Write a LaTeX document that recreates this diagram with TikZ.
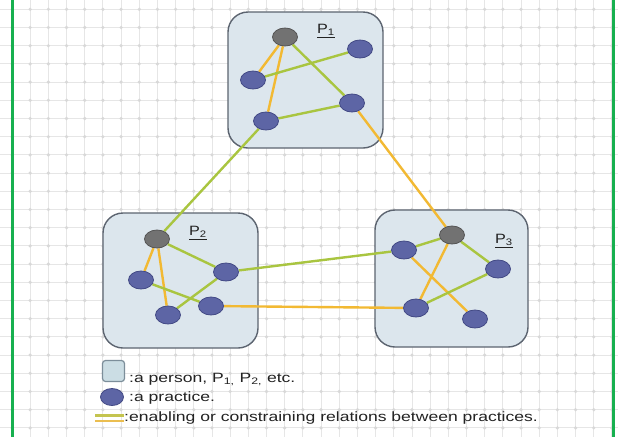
\documentclass[tikz,border=0pt]{standalone}
\usepackage{fontspec}
\usepackage{graphicx}
\setmainfont{Liberation Sans}
\usetikzlibrary{shapes.geometric}
\definecolor{gridc}{HTML}{E6E6E6}
\definecolor{dotc}{HTML}{D8D8D8}
\definecolor{barc}{HTML}{17B04F}
\definecolor{boxf}{HTML}{DCE6ED}
\definecolor{boxb}{HTML}{5C6470}
\definecolor{pracf}{HTML}{5D65A5}
\definecolor{pracb}{HTML}{434A85}
\definecolor{hubf}{HTML}{727272}
\definecolor{hubb}{HTML}{555555}
\definecolor{greenl}{HTML}{A9C540}
\definecolor{orangel}{HTML}{F2B933}
\definecolor{legy}{HTML}{C4C450}
\definecolor{lego}{HTML}{EBBE50}
\definecolor{legsq}{HTML}{CBDDE4}
\definecolor{legsqb}{HTML}{7C8E9A}
\definecolor{txt}{HTML}{222222}
\pgfdeclarelayer{bg}
\pgfdeclarelayer{edges}
\pgfsetlayers{bg,edges,main}
\begin{document}
\begin{tikzpicture}[x=1pt,y=-1pt,
  person/.style={draw=boxb, fill=boxf, line width=1.4pt, rounded corners=20pt, inner sep=0pt},
  prac/.style={ellipse, draw=pracb, fill=pracf, line width=0.8pt, minimum width=25pt, minimum height=18pt, inner sep=0pt},
  hub/.style={prac, draw=hubb, fill=hubf},
  gl/.style={draw=greenl, line width=2.4pt},
  ol/.style={draw=orangel, line width=2.4pt},
  plabel/.style={font=\fontsize{13.5}{14}\selectfont, text=txt, inner sep=0pt},
  legtext/.style={anchor=base west, inner sep=0pt, font=\fontsize{13.5}{14}\selectfont, text=txt}]
\useasboundingbox (0,0) rectangle (618,437);
\begin{pgfonlayer}{bg}
  \fill[white] (0,0) rectangle (618,437);
  \foreach \i in {0,...,33} {
    \draw[gridc, line width=0.9pt] ({12+18.18*\i},0) -- ({12+18.18*\i},437);
  }
  \foreach \j in {0,...,23} {
    \draw[gridc, line width=0.9pt] (0,{9.3+18.2*\j}) -- (618,{9.3+18.2*\j});
  }
  \foreach \i in {0,...,33} {
    \foreach \j in {0,...,23} {
      \fill[dotc] ({12+18.18*\i},{9.3+18.2*\j}) circle (1.8pt);
    }
  }
  \fill[barc] (10.5,0) rectangle (14,437);
  \fill[barc] (611.5,0) rectangle (615,437);
  % persons
  \node[person, minimum width=155pt, minimum height=136pt] (P1) at (305.5,80) {};
  \node[person, minimum width=155pt, minimum height=135pt] (P2) at (180.5,280.5) {};
  \node[person, minimum width=153pt, minimum height=137pt] (P3) at (451.5,278.5) {};
\end{pgfonlayer}
% P1 practices
\node[hub]  (h1) at (285,37) {};
\node[prac] (a1) at (360,49) {};
\node[prac] (b1) at (253,80) {};
\node[prac] (c1) at (352,103) {};
\node[prac] (d1) at (266,121) {};
\node[plabel] (l1) at (326,31) {\scalebox{1.2}[1]{\underline{P\textsubscript{1}}}};
% P2 practices
\node[hub]  (h2) at (157,239) {};
\node[prac] (e2) at (226,272) {};
\node[prac] (f2) at (141,280) {};
\node[prac] (g2) at (211,306) {};
\node[prac] (k2) at (168,315) {};
\node[plabel] (l2) at (198,233) {\scalebox{1.2}[1]{\underline{P\textsubscript{2}}}};
% P3 practices
\node[hub]  (h3) at (452,235) {};
\node[prac] (m3) at (404,250) {};
\node[prac] (r3) at (498,269) {};
\node[prac] (n3) at (416,308) {};
\node[prac] (s3) at (475,319) {};
\node[plabel] (l3) at (504,241) {\scalebox{1.2}[1]{\underline{P\textsubscript{3}}}};
\begin{pgfonlayer}{edges}
  % P1
  \draw[ol] (h1) -- (b1);
  \draw[ol] (h1) -- (d1);
  \draw[gl] (h1) -- (c1);
  \draw[gl] (b1) -- (a1);
  \draw[gl] (d1) -- (c1);
  % P2
  \draw[ol] (h2) -- (f2);
  \draw[ol] (h2) -- (k2);
  \draw[gl] (h2) -- (e2);
  \draw[gl] (f2) -- (g2);
  \draw[gl] (k2) -- (e2);
  % P3
  \draw[gl] (m3) -- (h3);
  \draw[gl] (h3) -- (r3);
  \draw[ol] (h3) -- (n3);
  \draw[ol] (m3) -- (s3);
  \draw[gl] (n3) -- (r3);
  % between persons
  \draw[gl] (d1) -- (h2);
  \draw[ol] (c1) -- (h3);
  \draw[gl] (e2) -- (m3);
  \draw[ol] (g2) -- (n3);
\end{pgfonlayer}
% legend
\node[draw=legsqb, fill=legsq, line width=1.2pt, rounded corners=3pt, minimum width=22pt, minimum height=21pt, inner sep=0pt] (lsq) at (113.5,371) {};
\node[prac, minimum width=23pt, minimum height=17pt] (lel) at (112,397) {};
\coordinate (la) at (95,415.5);
\coordinate (lb) at (124,415.5);
\coordinate (lc) at (95,421);
\coordinate (ld) at (124,421);
\draw[draw=legy, line width=2.4pt] (la) -- (lb);
\draw[draw=lego, line width=2.4pt] (lc) -- (ld);
\node[legtext] (t1) at (129,382) {\scalebox{1.3}[1]{:a person, P\textsubscript{1,} P\textsubscript{2,} etc.}};
\node[legtext] (t2) at (129,401.5) {\scalebox{1.3}[1]{:a practice.}};
\node[legtext] (t3) at (124,421) {\scalebox{1.3}[1]{:enabling or constraining relations between practices.}};
\end{tikzpicture}
\end{document}
